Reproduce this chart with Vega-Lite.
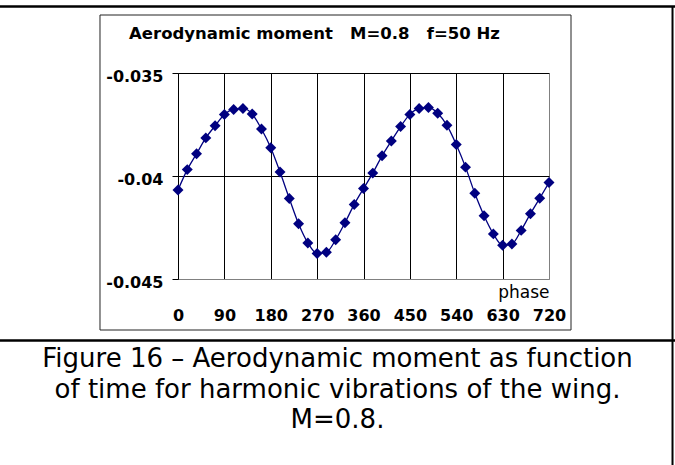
{
  "$schema": "https://vega.github.io/schema/vega-lite/v6.json",
  "width": 371,
  "height": 206,
  "autosize": {"type": "none"},
  "padding": {"left": 178, "top": 73, "right": 126, "bottom": 186},
  "background": "white",
  "config": {"view": {"stroke": null}, "font": "DejaVu Sans"},
  "title": {
    "text": ["Figure 16 – Aerodynamic moment as function", "of time for harmonic vibrations of the wing.", "M=0.8."],
    "orient": "bottom",
    "anchor": "middle",
    "frame": "group",
    "font": "DejaVu Sans",
    "fontSize": 26,
    "fontWeight": "normal",
    "color": "black",
    "lineHeight": 30.5,
    "baseline": "alphabetic",
    "offset": -100,
    "dx": -26
  },
  "data": {
    "values": [
      {"phase": 0, "moment": -0.04068},
      {"phase": 18, "moment": -0.03969},
      {"phase": 36, "moment": -0.03892},
      {"phase": 54, "moment": -0.03815},
      {"phase": 72, "moment": -0.03756},
      {"phase": 90, "moment": -0.03701},
      {"phase": 108, "moment": -0.03677},
      {"phase": 126, "moment": -0.03672},
      {"phase": 144, "moment": -0.03699},
      {"phase": 162, "moment": -0.03772},
      {"phase": 180, "moment": -0.03863},
      {"phase": 198, "moment": -0.03981},
      {"phase": 216, "moment": -0.04109},
      {"phase": 234, "moment": -0.04232},
      {"phase": 252, "moment": -0.04325},
      {"phase": 270, "moment": -0.04376},
      {"phase": 288, "moment": -0.0437},
      {"phase": 306, "moment": -0.04309},
      {"phase": 324, "moment": -0.04227},
      {"phase": 342, "moment": -0.04138},
      {"phase": 360, "moment": -0.04061},
      {"phase": 378, "moment": -0.03986},
      {"phase": 396, "moment": -0.03902},
      {"phase": 414, "moment": -0.0383},
      {"phase": 432, "moment": -0.0376},
      {"phase": 450, "moment": -0.03701},
      {"phase": 468, "moment": -0.03672},
      {"phase": 486, "moment": -0.03667},
      {"phase": 504, "moment": -0.03695},
      {"phase": 522, "moment": -0.03754},
      {"phase": 540, "moment": -0.03847},
      {"phase": 558, "moment": -0.03957},
      {"phase": 576, "moment": -0.04084},
      {"phase": 594, "moment": -0.04193},
      {"phase": 612, "moment": -0.04281},
      {"phase": 630, "moment": -0.04336},
      {"phase": 648, "moment": -0.0433},
      {"phase": 666, "moment": -0.04264},
      {"phase": 684, "moment": -0.04183},
      {"phase": 702, "moment": -0.04108},
      {"phase": 720, "moment": -0.04032}
    ]
  },
  "layer": [
    {
      "data": {"values": [{}]},
      "mark": {"type": "rect", "filled": false, "fillOpacity": 0, "stroke": "#222222", "strokeWidth": 1, "clip": false},
      "encoding": {
        "x": {"datum": -151.4, "type": "quantitative", "scale": {"domain": [0, 720], "nice": false, "zero": false}},
        "x2": {"datum": 762.7},
        "y": {"datum": -0.0321845, "type": "quantitative", "scale": {"domain": [-0.045, -0.035], "nice": false, "zero": false}},
        "y2": {"datum": -0.047476}
      }
    },
    {
      "data": {"values": [{}]},
      "mark": {"type": "rule", "color": "black", "strokeWidth": 2.5, "clip": false},
      "encoding": {
        "x": {"datum": -360, "type": "quantitative", "scale": {"domain": [0, 720], "nice": false, "zero": false}},
        "x2": {"datum": 980},
        "y": {"datum": -0.031772, "type": "quantitative", "scale": {"domain": [-0.045, -0.035], "nice": false, "zero": false}}
      }
    },
    {
      "data": {"values": [{}]},
      "mark": {"type": "rule", "color": "black", "strokeWidth": 2.5, "clip": false},
      "encoding": {
        "x": {"datum": -360, "type": "quantitative", "scale": {"domain": [0, 720], "nice": false, "zero": false}},
        "x2": {"datum": 980},
        "y": {"datum": -0.047985, "type": "quantitative", "scale": {"domain": [-0.045, -0.035], "nice": false, "zero": false}}
      }
    },
    {
      "data": {"values": [{}]},
      "mark": {"type": "rule", "color": "black", "strokeWidth": 2, "clip": false},
      "encoding": {
        "x": {"datum": 959.7, "type": "quantitative", "scale": {"domain": [0, 720], "nice": false, "zero": false}},
        "y": {"datum": -0.031772, "type": "quantitative", "scale": {"domain": [-0.045, -0.035], "nice": false, "zero": false}},
        "y2": {"datum": -0.054078}
      }
    },
    {
      "mark": {"type": "line", "color": "#000080", "strokeWidth": 1.3, "interpolate": "monotone"},
      "encoding": {
        "x": {
          "field": "phase",
          "type": "quantitative",
          "scale": {"domain": [0, 720], "nice": false, "zero": false},
          "axis": {
            "values": [0, 90, 180, 270, 360, 450, 540, 630, 720],
            "title": "phase",
            "titleX": 371,
            "titleY": 18,
            "titleAlign": "right",
            "titleBaseline": "alphabetic",
            "titleFont": "DejaVu Sans",
            "titleFontSize": 17,
            "titleFontWeight": "normal",
            "titleColor": "black",
            "labelFont": "DejaVu Sans",
            "labelFontSize": 16,
            "labelFontWeight": "bold",
            "labelColor": "black",
            "labelBaseline": "alphabetic",
            "labelPadding": 41,
            "labelFlush": false,
            "labelOverlap": false,
            "ticks": false,
            "tickSize": 0,
            "domainColor": "#808080",
            "domainWidth": 1,
            "grid": true,
            "gridColor": {"condition": {"test": "datum.value == 720", "value": "#808080"}, "value": "black"},
            "gridOpacity": 1,
            "gridWidth": 1
          }
        },
        "y": {
          "field": "moment",
          "type": "quantitative",
          "scale": {"domain": [-0.045, -0.035], "nice": false, "zero": false},
          "axis": {
            "values": [-0.045, -0.04, -0.035],
            "labelExpr": "toString(datum.value)",
            "title": "Aerodynamic moment\u00a0\u00a0\u00a0M=0.8\u00a0\u00a0\u00a0f=50 Hz",
            "titleAngle": 0,
            "titleX": 136,
            "titleY": -35,
            "titleAlign": "center",
            "titleBaseline": "alphabetic",
            "titleFont": "DejaVu Sans",
            "titleFontSize": 16.5,
            "titleFontWeight": "bold",
            "titleColor": "black",
            "labelFont": "DejaVu Sans",
            "labelFontSize": 16,
            "labelFontWeight": "bold",
            "labelColor": "black",
            "labelBaseline": "alphabetic",
            "labelOffset": 8.5,
            "labelPadding": 9,
            "labelFlush": false,
            "labelOverlap": false,
            "ticks": true,
            "tickSize": 6,
            "tickColor": "black",
            "tickWidth": 1,
            "domainColor": "black",
            "domainWidth": 1,
            "grid": true,
            "gridColor": {"condition": {"test": "datum.value == -0.045", "value": "#808080"}, "value": "black"},
            "gridOpacity": 1,
            "gridWidth": 1
          }
        }
      }
    },
    {
      "mark": {"type": "point", "shape": "diamond", "filled": true, "color": "#000080", "size": 120, "opacity": 1},
      "encoding": {
        "x": {"field": "phase", "type": "quantitative", "scale": {"domain": [0, 720], "nice": false, "zero": false}},
        "y": {"field": "moment", "type": "quantitative", "scale": {"domain": [-0.045, -0.035], "nice": false, "zero": false}}
      }
    }
  ]
}
